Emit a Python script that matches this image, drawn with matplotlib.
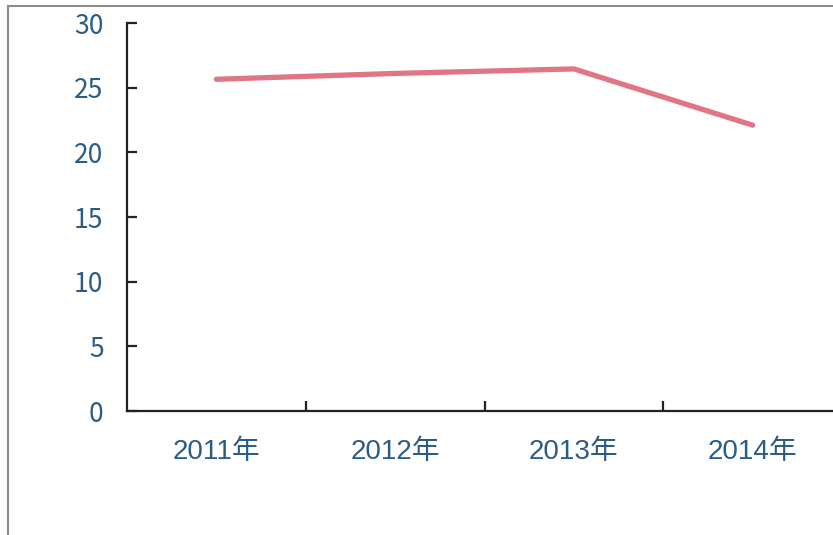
import matplotlib
matplotlib.use('Agg')
import matplotlib.pyplot as plt
from matplotlib.patches import Rectangle

plt.rcParams['font.family'] = ['Noto Sans CJK SC', 'DejaVu Sans']

years = ['2011年', '2012年', '2013年', '2014年']
values = [25.65, 26.1, 26.45, 22.1]

label_color = '#2a5c86'
line_color = '#e07585'

fig = plt.figure(figsize=(8.33, 5.35), dpi=100)

# outer gray frame (cropped on right and bottom)
fig.patches.append(Rectangle((8 / 833, -0.1), 1.0, (535 - 6) / 535 + 0.1,
                             transform=fig.transFigure, fill=False,
                             edgecolor='#8c8c8c', linewidth=1.5))

ax = fig.add_axes([127 / 833, 124 / 535, 715 / 833, 388 / 535])
x = list(range(len(years)))
ax.plot(x, values, color=line_color, linewidth=3.8, solid_capstyle='round',
        solid_joinstyle='round')

ax.set_xlim(-0.5, 3.5)
ax.set_ylim(0, 30)
ax.set_yticks([0, 5, 10, 15, 20, 25, 30])

ax.set_xticks([0.5, 1.5, 2.5])
ax.set_xticklabels([])
ax.set_xticks(x, minor=True)
ax.set_xticklabels(years, minor=True,
                   family=['Liberation Sans', 'Noto Sans CJK SC'])

for side in ['top', 'right']:
    ax.spines[side].set_visible(False)
for side in ['left', 'bottom']:
    ax.spines[side].set_linewidth(1.6)
    ax.spines[side].set_color('#222222')

ax.tick_params(axis='y', direction='in', length=7, width=1.6, color='#222222',
               labelsize=19, labelcolor=label_color, pad=17)
ax.tick_params(axis='x', which='major', direction='in', length=7, width=1.6,
               color='#222222')
ax.tick_params(axis='x', which='minor', length=0, labelsize=20,
               labelcolor=label_color, pad=20)

fig.savefig('out.png', dpi=100)
